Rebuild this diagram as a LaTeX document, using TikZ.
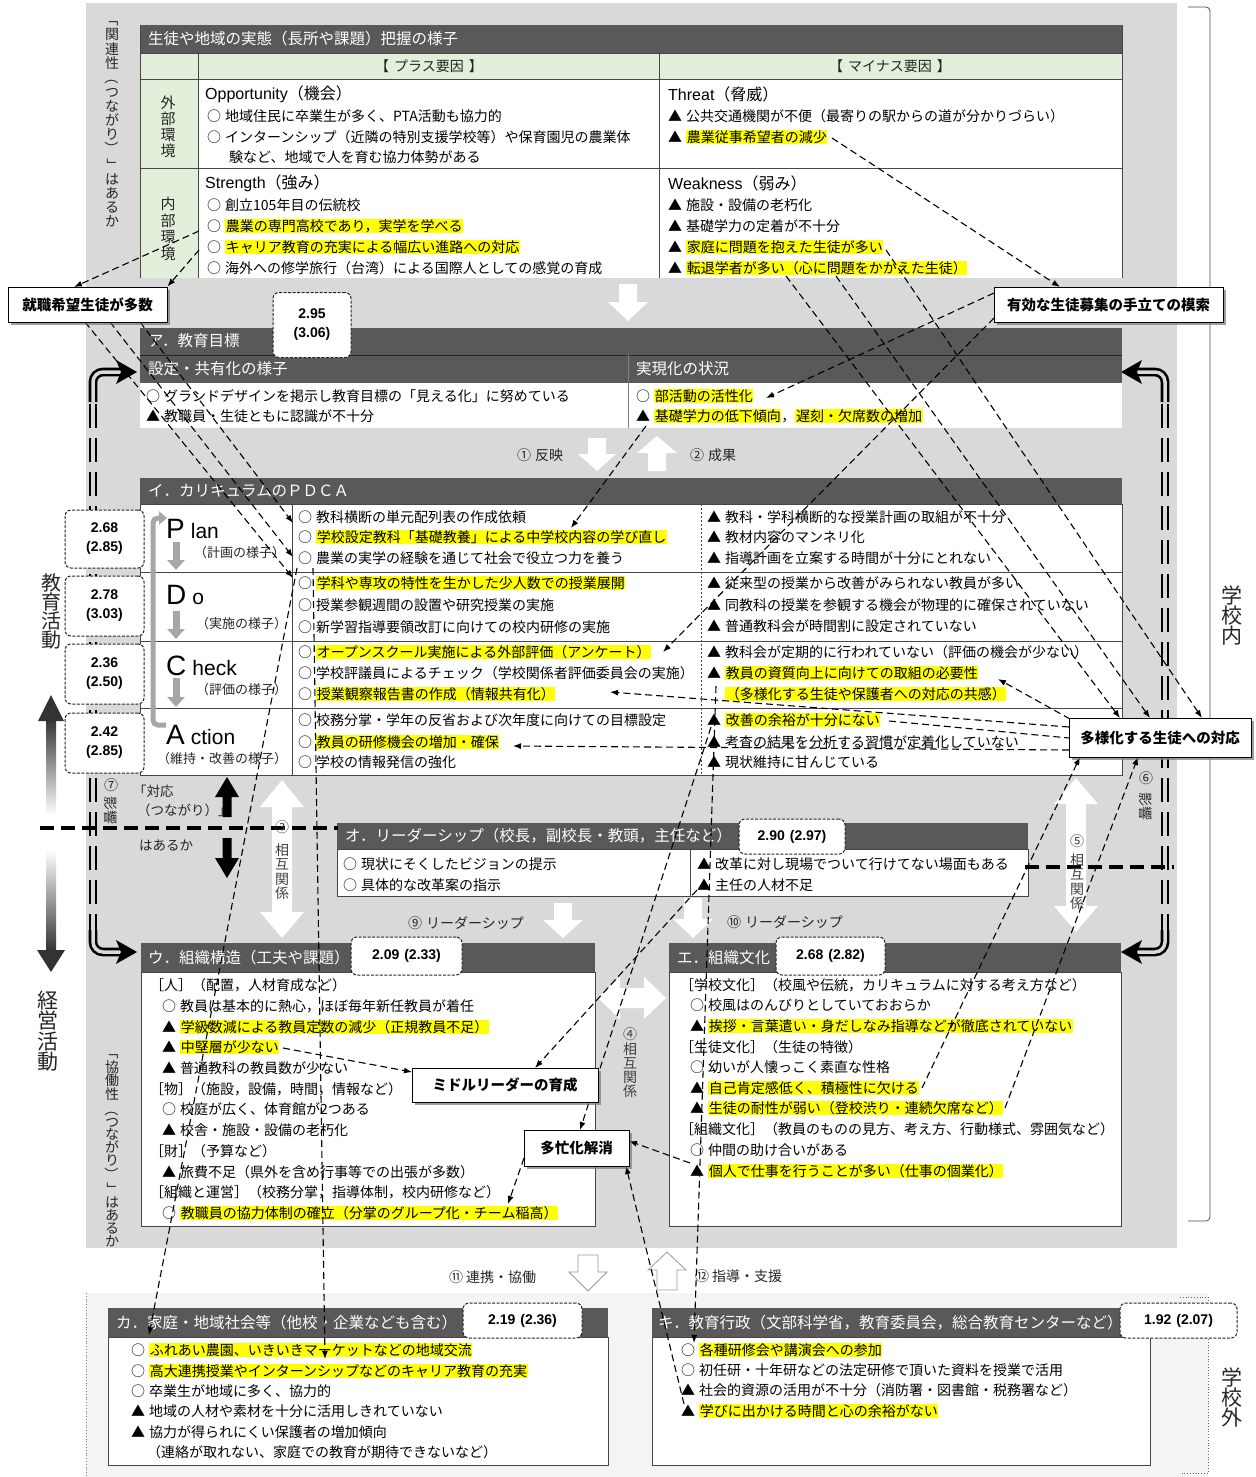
\documentclass[tikz,border=0pt]{standalone}
\usepackage{fontspec}
\setmainfont{Noto Sans CJK JP}
\setsansfont{Liberation Sans}
\usetikzlibrary{arrows.meta,shadows}
\definecolor{bgg}{RGB}{217,217,217}
\definecolor{lgg}{RGB}{244,244,244}
\definecolor{barc}{RGB}{89,89,89}
\definecolor{grn}{RGB}{226,239,218}
\definecolor{hly}{RGB}{255,255,0}
\definecolor{linec}{RGB}{70,70,70}
\definecolor{pdcag}{RGB}{166,166,166}
\newcommand{\hl}[1]{{\setlength{\fboxsep}{0.6pt}\colorbox{hly}{#1}}}
\newcommand{\vr}[1]{\rotatebox[origin=c]{-90}{#1}}
\newcommand{\bulo}{○\hspace{4pt}}
\newcommand{\bult}{▲\hspace{4pt}}
\tikzset{
 tx/.style={anchor=west,inner sep=0pt,font=\fontsize{14}{16}\selectfont},
 ttl/.style={anchor=west,inner sep=0pt,text=white,font=\fontsize{15.5}{17}\selectfont},
 hd/.style={anchor=west,inner sep=0pt,font=\fontsize{16}{18}\selectfont},
 score/.style={draw=black!85,dash pattern=on 3pt off 1.5pt,rounded corners=6pt,fill=white,line width=1pt,font=\sffamily\bfseries\fontsize{14}{19}\selectfont,align=center,inner sep=0pt},
 cbox/.style={draw=black,fill=white,line width=0.9pt,font=\bfseries\fontsize{14.5}{17}\selectfont,inner sep=0pt,drop shadow={shadow xshift=3pt,shadow yshift=-3pt,fill=black!50}},
 conn/.style={line width=1.1pt,dash pattern=on 7pt off 4pt,-{Latex[length=8pt,width=6pt]}},
 connp/.style={line width=1.1pt,dash pattern=on 7pt off 4pt},
 vt/.style={align=center,inner sep=0pt,font=\fontsize{14}{14.3}\selectfont},
 lab/.style={inner sep=0pt,font=\fontsize{14}{16}\selectfont,text=black!85},
 rail/.style={draw=black,line width=2.6pt,double=bgg,double distance=3.5pt},
 pdarr/.style={draw=pdcag,line width=7pt,-{Triangle[length=10pt,width=17pt]}},
 pdcal/.style={anchor=base west,inner sep=0pt,font=\sffamily\fontsize{28}{28}\selectfont},
 pdsub/.style={anchor=west,inner sep=0pt,font=\fontsize{13}{15}\selectfont,text=black!85},
}
\begin{document}
\begin{tikzpicture}[x=1pt,y=-1pt]
\useasboundingbox (0,0) rectangle (1255,1477);
\fill[white] (0,0) rectangle (1255,1477);
% backgrounds
\fill[bgg] (86,3) rectangle (1177,1248);
\fill[lgg] (86,1293) rectangle (1208,1477);
\draw[gray,dotted,line width=0.8pt] (86,1293) -- (86,1477);
\draw[black!70,line width=0.8pt,rounded corners=4pt] (1188,7) -- (1210,7) -- (1210,1221) -- (1188,1221);
\draw[black!60,dotted,line width=0.8pt] (1180,1297) -- (1208,1297) -- (1208,1473) -- (1180,1473);

% rails
\draw[rail,rounded corners=10pt] (93,402) |- (121,372);
\fill (116,360) -- (137,372) -- (116,384) -- (121,372) -- cycle;
\draw[rail,dash pattern=on 24pt off 10pt] (93,404) -- (93,930);
\draw[rail,rounded corners=10pt] (93,930) |- (121,952);
\fill (116,940) -- (137,952) -- (116,964) -- (121,952) -- cycle;
\draw[rail,rounded corners=10pt] (1165,402) |- (1137,372);
\fill (1142,360) -- (1121,372) -- (1142,384) -- (1137,372) -- cycle;
\draw[rail,dash pattern=on 24pt off 10pt] (1165,404) -- (1165,930);
\draw[rail,rounded corners=10pt] (1165,930) |- (1137,952);
\fill (1142,940) -- (1121,952) -- (1142,964) -- (1137,952) -- cycle;

% ---------- SWOT table
\fill[barc] (140,25) rectangle (1122,53);
\fill[grn] (140,53) rectangle (1122,79);
\fill[grn] (140,79) rectangle (198,278);
\fill[white] (198,79) rectangle (1122,278);
\draw[linec,line width=0.7pt] (140,53) -- (1122,53) (140,79) -- (1122,79) (140,168) -- (1122,168) (198,53) -- (198,278) (659,53) -- (659,278) (140,25) -- (140,278) (1122,25) -- (1122,278);
\node[ttl] (t0) at (148,39) {生徒や地域の実態（長所や課題）把握の様子};
\node[lab] (t0a) at (429,66) {【\hspace{5pt}プラス要因\hspace{5pt}】};
\node[lab] (t0b) at (890,66) {【\hspace{5pt}マイナス要因\hspace{5pt}】};
\node[vt,font=\fontsize{15}{16}\selectfont,text=black!85] (t0c) at (168,127) {外\\部\\環\\境};
\node[vt,font=\fontsize{15}{16.5}\selectfont,text=black!85] (t0d) at (168,229) {内\\部\\環\\境};
\node[hd] (o0) at (205,94) {{\sffamily Opportunity}（機会）};
\node[tx] (o1) at (207,116) {\bulo 地域住民に卒業生が多く、PTA活動も協力的};
\node[tx] (o2) at (207,137) {\bulo インターンシップ（近隣の特別支援学校等）や保育園児の農業体};
\node[tx] (o3) at (229,157) {験など、地域で人を育む協力体勢がある};
\node[hd] (s0) at (205,183) {{\sffamily Strength}（強み）};
\node[tx] (s1) at (207,205) {\bulo 創立105年目の伝統校};
\node[tx] (s2) at (207,226) {\bulo \hl{農業の専門高校であり，実学を学べる}};
\node[tx] (s3) at (207,247) {\bulo \hl{キャリア教育の充実による幅広い進路への対応}};
\node[tx] (s4) at (207,268) {\bulo 海外への修学旅行（台湾）による国際人としての感覚の育成};
\node[hd] (h0) at (668,94) {{\sffamily Threat}（脅威）};
\node[tx] (h1) at (668,116) {\bult 公共交通機関が不便（最寄りの駅からの道が分かりづらい）};
\node[tx] (h2) at (668,137) {\bult \hl{農業従事希望者の減少}};
\node[hd] (w0) at (668,183) {{\sffamily Weakness}（弱み）};
\node[tx] (w1) at (668,205) {\bult 施設・設備の老朽化};
\node[tx] (w2) at (668,226) {\bult 基礎学力の定着が不十分};
\node[tx] (w3) at (668,247) {\bult \hl{家庭に問題を抱えた生徒が多い}};
\node[tx] (w4) at (668,268) {\bult \hl{転退学者が多い（心に問題をかかえた生徒）}};

% ---------- ア
\fill[barc] (140,328) rectangle (1122,383);
\draw[black!85,line width=0.8pt] (140,355) -- (1122,355);
\fill[white] (140,383) rectangle (1122,428);
\draw[gray,line width=0.7pt] (628,355) -- (628,428);
\node[ttl] (a0) at (148,341) {ア．教育目標};
\node[ttl] (a1) at (148,369) {設定・共有化の様子};
\node[ttl] (a2) at (636,369) {実現化の状況};
\node[tx] (a3) at (146,396) {\bulo グランドデザインを掲示し教育目標の「見える化」に努めている};
\node[tx] (a4) at (146,416) {\bult 教職員・生徒ともに認識が不十分};
\node[tx] (a5) at (636,396) {\bulo \hl{部活動の活性化}};
\node[tx] (a6) at (636,416) {\bult \hl{基礎学力の低下傾向}，\hl{遅刻・欠席数の増加}};

% ---------- イ PDCA
\fill[barc] (140,478) rectangle (1122,504);
\fill[white] (140,504) rectangle (1122,775);
\draw[linec,line width=0.7pt] (140,504) rectangle (1122,775) (140,572) -- (1122,572) (140,641) -- (1122,641) (140,708) -- (1122,708) (292,504) -- (292,775);
\draw[linec,line width=0.5pt,dash pattern=on 2pt off 2pt] (701,504) -- (701,775);
\node[ttl] (i0) at (148,491) {イ．カリキュラムのＰＤＣＡ};
\node[pdcal] (pP) at (166,538) {P\hspace{6pt}{\fontsize{21}{21}\selectfont lan}};
\node[pdcal] (pD) at (166,604) {D\hspace{6pt}{\fontsize{21}{21}\selectfont o}};
\node[pdcal] (pC) at (166,675) {C\hspace{6pt}{\fontsize{21}{21}\selectfont heck}};
\node[pdcal] (pA) at (166,744) {A\hspace{6pt}{\fontsize{21}{21}\selectfont ction}};
\node[pdsub] (sP) at (194,553) {（計画の様子）};
\node[pdsub] (sD) at (196,624) {（実施の様子）};
\node[pdsub] (sC) at (196,690) {（評価の様子）};
\node[pdsub] (sA) at (157,759) {（維持・改善の様子）};
\draw[pdarr] (176,542) -- (176,570);
\draw[pdarr] (176,611) -- (176,639);
\draw[pdarr] (176,678) -- (176,707);
\draw[pdcag,line width=5pt,rounded corners=5pt,-{Triangle[length=8pt,width=13pt]}] (166,725) -- (153,725) -- (153,518) -- (167,518);
\node[tx] (pm1) at (298,517) {\bulo 教科横断の単元配列表の作成依頼};
\node[tx] (pm2) at (298,537) {\bulo \hl{学校設定教科「基礎教養」による中学校内容の学び直し}};
\node[tx] (pm3) at (298,558) {\bulo 農業の実学の経験を通じて社会で役立つ力を養う};
\node[tx] (dm1) at (298,583) {\bulo \hl{学科や専攻の特性を生かした少人数での授業展開}};
\node[tx] (dm2) at (298,605) {\bulo 授業参観週間の設置や研究授業の実施};
\node[tx] (dm3) at (298,627) {\bulo 新学習指導要領改訂に向けての校内研修の実施};
\node[tx] (cm1) at (298,652) {\bulo \hl{オープンスクール実施による外部評価（アンケート）}};
\node[tx] (cm2) at (298,673) {\bulo 学校評議員によるチェック（学校関係者評価委員会の実施）};
\node[tx] (cm3) at (298,694) {\bulo \hl{授業観察報告書の作成（情報共有化）}};
\node[tx] (am1) at (298,720) {\bulo 校務分掌・学年の反省および次年度に向けての目標設定};
\node[tx] (am2) at (298,742) {\bulo \hl{教員の研修機会の増加・確保}};
\node[tx] (am3) at (298,762) {\bulo 学校の情報発信の強化};
\node[tx] (pr1) at (707,517) {\bult 教科・学科横断的な授業計画の取組が不十分};
\node[tx] (pr2) at (707,537) {\bult 教材内容のマンネリ化};
\node[tx] (pr3) at (707,558) {\bult 指導計画を立案する時間が十分にとれない};
\node[tx] (dr1) at (707,583) {\bult 従来型の授業から改善がみられない教員が多い};
\node[tx] (dr2) at (707,605) {\bult 同教科の授業を参観する機会が物理的に確保されていない};
\node[tx] (dr3) at (707,626) {\bult 普通教科会が時間割に設定されていない};
\node[tx] (cr1) at (707,652) {\bult 教科会が定期的に行われていない（評価の機会が少ない）};
\node[tx] (cr2) at (707,673) {\bult \hl{教員の資質向上に向けての取組の必要性}};
\node[tx] (cr3) at (725,694) {\hl{（多様化する生徒や保護者への対応の共感）}};
\node[tx] (ar1) at (707,720) {\bult \hl{改善の余裕が十分にない}};
\node[tx] (ar2) at (707,742) {\bult 考査の結果を分析する習慣が定着化していない};
\node[tx] (ar3) at (707,762) {\bult 現状維持に甘んじている};

% ---------- オ
\fill[barc] (337,823) rectangle (1028,849);
\fill[white] (337,849) rectangle (1028,896);
\draw[linec,line width=0.7pt] (337,849) rectangle (1028,896) (690,849) -- (690,896);
\node[ttl] (f0) at (345,836) {オ．リーダーシップ（校長，副校長・教頭，主任など）};
\node[tx] (ol1) at (343,864) {\bulo 現状にそくしたビジョンの提示};
\node[tx] (ol2) at (343,885) {\bulo 具体的な改革案の指示};
\node[tx] (or1) at (697,864) {\bult 改革に対し現場でついて行けてない場面もある};
\node[tx] (or2) at (697,885) {\bult 主任の人材不足};

% ---------- ウ
\fill[barc] (141,943) rectangle (595,972);
\fill[white] (141,972) rectangle (595,1226);
\draw[linec,line width=0.7pt] (141,972) rectangle (595,1226);
\node[ttl] (u00) at (148,958) {ウ．組織構造（工夫や課題）};
\node[tx] (u0) at (150,985) {［人］（配置，人材育成など）};
\node[tx] (u1) at (162,1006) {\bulo 教員は基本的に熱心，ほぼ毎年新任教員が着任};
\node[tx] (u2) at (162,1027) {\bult \hl{学級数減による教員定数の減少（正規教員不足）}};
\node[tx] (u3) at (162,1047) {\bult \hl{中堅層が少ない}};
\node[tx] (u4) at (162,1068) {\bult 普通教科の教員数が少ない};
\node[tx] (u5) at (150,1089) {［物］（施設，設備，時間，情報など）};
\node[tx] (u6) at (162,1109) {\bulo 校庭が広く、体育館が2つある};
\node[tx] (u7) at (162,1130) {\bult 校舎・施設・設備の老朽化};
\node[tx] (u8) at (150,1151) {［財］（予算など）};
\node[tx] (u9) at (162,1172) {\bult 旅費不足（県外を含め行事等での出張が多数）};
\node[tx] (u10) at (150,1192) {［組織と運営］（校務分掌，指導体制，校内研修など）};
\node[tx] (u11) at (162,1213) {\bulo \hl{教職員の協力体制の確立（分掌のグループ化・チーム稲高）}};

% ---------- エ
\fill[barc] (669,943) rectangle (1121,972);
\fill[white] (669,972) rectangle (1121,1226);
\draw[linec,line width=0.7pt] (669,972) rectangle (1121,1226);
\node[ttl] (e00) at (677,958) {エ．組織文化};
\node[tx] (e0) at (680,985) {［学校文化］（校風や伝統，カリキュラムに対する考え方など）};
\node[tx] (e1) at (690,1005) {\bulo 校風はのんびりとしていておおらか};
\node[tx] (e2) at (690,1026) {\bult \hl{挨拶・言葉遣い・身だしなみ指導などが徹底されていない}};
\node[tx] (e3) at (680,1047) {［生徒文化］（生徒の特徴）};
\node[tx] (e4) at (690,1067) {\bulo 幼いが人懐っこく素直な性格};
\node[tx] (e5) at (690,1088) {\bult \hl{自己肯定感低く、積極性に欠ける}};
\node[tx] (e6) at (690,1108) {\bult \hl{生徒の耐性が弱い（登校渋り・連続欠席など）}};
\node[tx] (e7) at (680,1129) {［組織文化］（教員のものの見方、考え方、行動様式、雰囲気など）};
\node[tx] (e8) at (690,1150) {\bulo 仲間の助け合いがある};
\node[tx] (e9) at (690,1171) {\bult \hl{個人で仕事を行うことが多い（仕事の個業化）}};

% ---------- カ
\fill[barc] (108,1308) rectangle (608,1337);
\fill[white] (108,1337) rectangle (608,1465);
\draw[linec,line width=0.7pt] (108,1337) rectangle (608,1465);
\node[ttl] (k0) at (116,1323) {カ．家庭・地域社会等（他校・企業なども含む）};
\node[tx] (k1) at (131,1350) {\bulo \hl{ふれあい農園、いきいきマーケットなどの地域交流}};
\node[tx] (k2) at (131,1371) {\bulo \hl{高大連携授業やインターンシップなどのキャリア教育の充実}};
\node[tx] (k3) at (131,1391) {\bulo 卒業生が地域に多く、協力的};
\node[tx] (k4) at (131,1411) {\bult 地域の人材や素材を十分に活用しきれていない};
\node[tx] (k5) at (131,1432) {\bult 協力が得られにくい保護者の増加傾向};
\node[tx] (k6) at (147,1452) {（連絡が取れない、家庭での教育が期待できないなど）};

% ---------- キ
\fill[barc] (652,1308) rectangle (1150,1337);
\fill[white] (652,1337) rectangle (1150,1465);
\draw[linec,line width=0.7pt] (652,1337) rectangle (1150,1465);
\node[ttl] (g0) at (658,1323) {キ．教育行政（文部科学省，教育委員会，総合教育センターなど）};
\node[tx] (g1) at (681,1350) {\bulo \hl{各種研修会や講演会への参加}};
\node[tx] (g2) at (681,1370) {\bulo 初任研・十年研などの法定研修で頂いた資料を授業で活用};
\node[tx] (g3) at (681,1390) {\bult 社会的資源の活用が不十分（消防署・図書館・税務署など）};
\node[tx] (g4) at (681,1411) {\bult \hl{学びに出かける時間と心の余裕がない}};

% ---------- white block arrows
\fill[white] (619,284) -- (637,284) -- (637,302) -- (648,302) -- (628,321) -- (608,302) -- (619,302) -- cycle;
\fill[white] (588,438) -- (606,438) -- (606,454) -- (616,454) -- (597,471) -- (578,454) -- (588,454) -- cycle;
\fill[white] (657,436) -- (677,453) -- (666,453) -- (666,471) -- (648,471) -- (648,453) -- (637,453) -- cycle;
\fill[white] (554,903) -- (572,903) -- (572,920) -- (583,920) -- (563,938) -- (543,920) -- (554,920) -- cycle;
\fill[white] (684,898) -- (702,898) -- (702,919) -- (713,919) -- (693,938) -- (673,919) -- (684,919) -- cycle;
\fill[white] (282,780) -- (304,807) -- (292,807) -- (292,912) -- (304,912) -- (282,938) -- (260,912) -- (272,912) -- (272,807) -- (260,807) -- cycle;
\fill[white] (1076,778) -- (1098,804) -- (1086,804) -- (1086,906) -- (1098,906) -- (1076,932) -- (1054,906) -- (1066,906) -- (1066,804) -- (1054,804) -- cycle;
\fill[white] (598,998) -- (620,977) -- (620,988) -- (644,988) -- (644,977) -- (666,998) -- (644,1019) -- (644,1008) -- (620,1008) -- (620,1019) -- cycle;
\draw[gray!80,fill=white,line width=0.8pt] (578,1255) -- (598,1255) -- (598,1272) -- (607,1272) -- (588,1291) -- (569,1272) -- (578,1272) -- cycle;
\draw[gray!80,fill=white,line width=0.8pt] (667,1252) -- (686,1270) -- (677,1270) -- (677,1290) -- (657,1290) -- (657,1270) -- (648,1270) -- cycle;
% black arrows
\fill[black] (227,777) -- (239,797) -- (231.5,797) -- (231.5,817) -- (222.5,817) -- (222.5,797) -- (215,797) -- cycle;
\fill[black] (227,878) -- (239,858) -- (231.5,858) -- (231.5,838) -- (222.5,838) -- (222.5,858) -- (215,858) -- cycle;
% gradient arrows
\shade[top color=black!80,bottom color=white] (46,719) rectangle (56,815);
\fill[black!80] (38,721) -- (64,721) -- (51,695) -- cycle;
\shade[top color=white,bottom color=black!80] (46,850) rectangle (56,951);
\fill[black!80] (37,950) -- (65,950) -- (51,972) -- cycle;
% thick dashed lines
\draw[line width=3.6pt,dash pattern=on 14pt off 7pt] (40,828) -- (338,828);
\draw[line width=3.6pt,dash pattern=on 14pt off 7pt] (1025,867) -- (1174,867);

% ---------- labels
\node[vt,text=black!85] (v1) at (112,120) {\vr{「}\\関\\連\\性\\\vr{（}\\つ\\な\\が\\り\\\vr{）}\\\vr{」}\\は\\あ\\る\\か};
\node[vt,text=black!85,font=\fontsize{14}{12.8}\selectfont] (v2) at (112,1146) {\vr{「}\\協\\働\\性\\\vr{（}\\つ\\な\\が\\り\\\vr{）}\\\vr{」}\\は\\あ\\る\\か};
\node[vt,text=black!85,font=\fontsize{20}{19}\selectfont] (v3) at (51,611) {教\\育\\活\\動};
\node[vt,text=black!85,font=\fontsize{21}{20.5}\selectfont] (v4) at (48,1031) {経\\営\\活\\動};
\node[vt,text=black!85,font=\fontsize{21}{20}\selectfont] (v5) at (1232,615) {学\\校\\内};
\node[vt,text=black!85,font=\fontsize{21}{20}\selectfont] (v6) at (1232,1397) {学\\校\\外};
\node[vt,text=black!75] (l3) at (282,860) {③\\[9pt]相\\互\\関\\係};
\node[vt,text=black!75] (l5) at (1077,872) {⑤\\[5pt]相\\互\\関\\係};
\node[vt,text=black!75] (l4) at (630,1063) {④\\相\\互\\関\\係};
\node[lab] (l7a) at (111,785) {⑦};
\node[lab,rotate=-90] (l7b) at (111,810) {影響};
\node[lab] (l6a) at (1146,778) {⑥};
\node[lab,rotate=-90] (l6b) at (1146,806) {影響};
\node[lab,anchor=west,font=\fontsize{13.5}{15}\selectfont] (q1) at (133,791) {「対応};
\node[lab,anchor=west,font=\fontsize{13.5}{15}\selectfont] (q2) at (137,810) {（つながり）」};
\node[lab,anchor=west,font=\fontsize{13.5}{15}\selectfont] (q3) at (139,845) {はあるか};
\node[lab,anchor=west] (n1) at (517,455) {①\hspace{4pt}反映};
\node[lab,anchor=west] (n2) at (690,455) {②\hspace{4pt}成果};
\node[lab,anchor=west] (n9) at (408,923) {⑨\hspace{4pt}リーダーシップ};
\node[lab,anchor=west] (n10) at (727,922) {⑩\hspace{4pt}リーダーシップ};
\node[lab,anchor=west] (n11) at (449,1277) {⑪\hspace{3pt}連携・協働};
\node[lab,anchor=west] (n12) at (695,1276) {⑫\hspace{3pt}指導・支援};

% ---------- callout boxes (nodes)
\node[cbox,minimum width=159pt,minimum height=35pt] (bx1) at (87.5,304.5) {就職希望生徒が多数};
\node[cbox,minimum width=229pt,minimum height=35pt] (bx2) at (1108.5,304.5) {有効な生徒募集の手立ての模索};
\node[cbox,minimum width=182pt,minimum height=39pt] (bx3) at (1160,737.5) {多様化する生徒への対応};
\node[cbox,minimum width=186pt,minimum height=34pt] (bx4) at (505,1085) {ミドルリーダーの育成};
\node[cbox,minimum width=105pt,minimum height=36pt] (bx5) at (576.5,1148) {多忙化解消};

% ---------- connector coordinates
\coordinate (c1a) at (199,231); \coordinate (c1b) at (74,287);
\coordinate (c2a) at (199,250);
\coordinate (c3a) at (85,322);  \coordinate (c3b) at (293,578);
\coordinate (c4a) at (110,322); \coordinate (c4b) at (293,557);
\coordinate (c5a) at (140,322); \coordinate (c5b) at (293,523);
\coordinate (c6a) at (832,138); \coordinate (c6b) at (1060,287);
\coordinate (c7a) at (786,276); \coordinate (c7b) at (1120,718);
\coordinate (c8a) at (836,276); \coordinate (c8b) at (1150,718);
\coordinate (c9a) at (886,250); \coordinate (c9b) at (1202,718);
\coordinate (c10a) at (994,293); \coordinate (c10b) at (766,398);
\coordinate (c11a) at (994,318); \coordinate (c11b) at (663,652);
\coordinate (c12a) at (646,426); \coordinate (c12b) at (571,528);
\coordinate (c13a) at (1070,719); \coordinate (c13b) at (998,679);
\coordinate (c14a) at (1069,727); \coordinate (c14b) at (610,692);
\coordinate (c15a) at (1069,750); \coordinate (c15b) at (513,746);
\coordinate (c16a) at (889,721); \coordinate (c16b) at (1069,738);
\coordinate (c17a) at (922,1088); \coordinate (c17b) at (1080,757);
\coordinate (c18a) at (1005,1108); \coordinate (c18b) at (1138,757);
\coordinate (c19a) at (283,1048); \coordinate (c19b) at (412,1072);
\coordinate (c20a) at (697,890); \coordinate (c20b) at (535,1068);
\coordinate (c21a) at (711,727); \coordinate (c21b) at (580,1130);
\coordinate (c22a) at (690,1163); \coordinate (c22b) at (629,1141);
\coordinate (c23a) at (684,1404); \coordinate (c23b) at (626,1166);
\coordinate (c24a) at (524,1158); \coordinate (c24b) at (508,1204);
\coordinate (c25a) at (297,568); \coordinate (c25b) at (149,1335);
\coordinate (c26a) at (313,568); \coordinate (c26b) at (325,1359);
\coordinate (c27a) at (716,686); \coordinate (c27b) at (694,1343);

\draw[conn] (c1a) -- (c1b);
\draw[conn] (c2a) -- (bx1.north east);
\draw[conn] (c3a) -- (c3b);
\draw[conn] (c4a) -- (c4b);
\draw[conn] (c5a) -- (c5b);
\draw[conn] (c6a) -- (c6b);
\draw[conn] (c7a) -- (c7b);
\draw[conn] (c8a) -- (c8b);
\draw[conn] (c9a) -- (c9b);
\draw[conn] (c10a) -- (c10b);
\draw[conn] (c11a) -- (c11b);
\draw[conn] (c12a) -- (c12b);
\draw[conn] (c13a) -- (c13b);
\draw[conn] (c14a) -- (c14b);
\draw[conn] (c15a) -- (c15b);
\draw[connp] (c16a) -- (c16b);
\draw[conn] (c17a) -- (c17b);
\draw[conn] (c18a) -- (c18b);
\draw[conn] (c19a) -- (c19b);
\draw[conn] (c20a) -- (c20b);
\draw[conn] (c21a) -- (c21b);
\draw[conn] (c22a) -- (c22b);
\draw[conn] (c23a) -- (c23b);
\draw[conn] (c24a) -- (c24b);
\draw[conn] (c25a) -- (c25b);
\draw[conn] (c26a) -- (c26b);
\draw[conn] (c27a) -- (c27b);

% redraw boxes on top of line starts
\node[cbox,minimum width=159pt,minimum height=35pt] (bx1b) at (87.5,304.5) {就職希望生徒が多数};
\node[cbox,minimum width=229pt,minimum height=35pt] (bx2b) at (1108.5,304.5) {有効な生徒募集の手立ての模索};
\node[cbox,minimum width=182pt,minimum height=39pt] (bx3b) at (1160,737.5) {多様化する生徒への対応};
\node[cbox,minimum width=186pt,minimum height=34pt] (bx4b) at (505,1085) {ミドルリーダーの育成};
\node[cbox,minimum width=105pt,minimum height=36pt] (bx5b) at (576.5,1148) {多忙化解消};

% ---------- score boxes
\node[score,minimum width=78pt,minimum height=65pt] (sc0) at (312,325) {2.95\\(3.06)};
\node[score,minimum width=79pt,minimum height=58pt] (sc1) at (104.5,539) {2.68\\(2.85)};
\node[score,minimum width=79pt,minimum height=60pt] (sc2) at (104.5,606) {2.78\\(3.03)};
\node[score,minimum width=79pt,minimum height=60pt] (sc3) at (104.5,674) {2.36\\(2.50)};
\node[score,minimum width=79pt,minimum height=60pt] (sc4) at (104.5,743) {2.42\\(2.85)};
\node[score,minimum width=106pt,minimum height=35pt] (sc5) at (792,836.5) {2.90\hspace{5pt}(2.97)};
\node[score,minimum width=111pt,minimum height=38pt] (sc6) at (406.5,956) {2.09\hspace{5pt}(2.33)};
\node[score,minimum width=109pt,minimum height=38pt] (sc7) at (830.5,956) {2.68\hspace{5pt}(2.82)};
\node[score,minimum width=119pt,minimum height=35pt] (sc8) at (522.5,1320.5) {2.19\hspace{5pt}(2.36)};
\node[score,minimum width=117pt,minimum height=35pt] (sc9) at (1178.5,1320.5) {1.92\hspace{5pt}(2.07)};
\end{tikzpicture}
\end{document}
